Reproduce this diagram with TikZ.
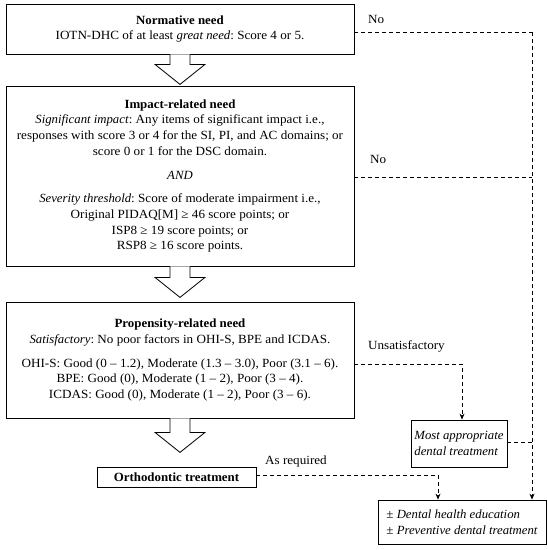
\documentclass[tikz,border=0pt]{standalone}
\usepackage{fontspec}
\setmainfont{Liberation Serif}[
  UprightFeatures={FakeStretch=1.05},
  BoldFeatures={FakeStretch=1.03},
  ItalicFeatures={FakeStretch=1.02}]
\usetikzlibrary{arrows.meta,calc}
\frenchspacing
\begin{document}
\begin{tikzpicture}[x=1pt,y=-1pt,
  txt/.style={font=\fontsize{12.5}{15.8}\selectfont},
  box/.style={draw, line width=0.8pt, align=center, inner sep=0pt, txt},
  lbl/.style={txt, anchor=west, inner sep=0pt},
  dline/.style={line width=0.8pt, dash pattern=on 4pt off 3pt},
  darr/.style={dline, -{Stealth[length=6pt,width=5pt]}},
  harrow/.style={line width=0.8pt, fill=white, line join=miter}]
\useasboundingbox (0,0) rectangle (548,550);
\fill[white] (0,0) rectangle (548,550);

\node[box, minimum width=348pt, minimum height=50pt] (b1) at (180,29)
  {\textbf{Normative need}\\IOTN-DHC of at least \emph{great need}: Score 4 or 5.};
\node[box, minimum width=348pt, minimum height=180pt] (b2) at (180,176)
  {\textbf{Impact-related need}\\
   \emph{Significant impact}: Any items of significant impact i.e.,\\
   responses with score 3 or 4 for the SI, PI, and AC domains; or\\
   score 0 or 1 for the DSC domain.\\[8pt]
   \emph{AND}\\[7.5pt]
   \emph{Severity threshold}: Score of moderate impairment i.e.,\\
   Original PIDAQ[M] ≥ 46 score points; or\\
   ISP8 ≥ 19 score points; or\\
   RSP8 ≥ 16 score points.};
\node[box, minimum width=348pt, minimum height=116pt] (b3) at (180,360)
  {\textbf{Propensity-related need}\\
   \emph{Satisfactory}: No poor factors in OHI-S, BPE and ICDAS.\\[8pt]
   OHI-S: Good (0 – 1.2), Moderate (1.3 – 3.0), Poor (3.1 – 6).\\
   BPE: Good (0), Moderate (1 – 2), Poor (3 – 4).\\
   ICDAS: Good (0), Moderate (1 – 2), Poor (3 – 6).};
\node[box, minimum width=159pt, minimum height=20pt] (ortho) at (176.5,477)
  {\textbf{Orthodontic treatment}};
\node[box, minimum width=96pt, minimum height=47pt, align=left] (most) at (459,443.5)
  {\emph{Most appropriate}\\\emph{dental treatment}};
\node[box, minimum width=168pt, minimum height=44pt, align=left] (final) at (462,522)
  {± \emph{Dental health education}\\± \emph{Preventive dental treatment}};

\draw[harrow] ($(b1.south)+(-10,0)$) -- ++(0,10) -- ++(-15,0)
  -- ++(25,20) -- ++(25,-20) -- ++(-15,0) -- ++(0,-10);
\draw[harrow] ($(b2.south)+(-10,0)$) -- ++(0,11) -- ++(-15,0)
  -- ++(25,20) -- ++(25,-20) -- ++(-15,0) -- ++(0,-11);
\draw[harrow] ($(b3.south)+(-10,0)$) -- ++(0,14) -- ++(-15,0)
  -- ++(25,20) -- ++(25,-20) -- ++(-15,0) -- ++(0,-14);

% right column
\coordinate (v1) at (532,32);
\coordinate (v2) at (532,177);
\coordinate (v3) at (532,442);
\coordinate (u1) at (462,364);
\coordinate (r1) at (438,475);

\draw[dline] (b1.east |- v1) -- (v1);
\draw[dline] (b2.east |- v2) -- (v2);
\draw[darr] (v1) -- (final.north -| v1);
\draw[dline] (most.east |- v3) -- (v3);
\draw[darr] (b3.east |- u1) -- (u1) -- (most.north -| u1);
\draw[darr] (ortho.east |- r1) -- (r1) -- (final.north -| r1);

\node[lbl] (no1) at (368,19) {No};
\node[lbl] (no2) at (370,159) {No};
\node[lbl] (uns) at (368,346) {Unsatisfactory};
\node[lbl] (asr) at (265,461) {As required};
\end{tikzpicture}
\end{document}
